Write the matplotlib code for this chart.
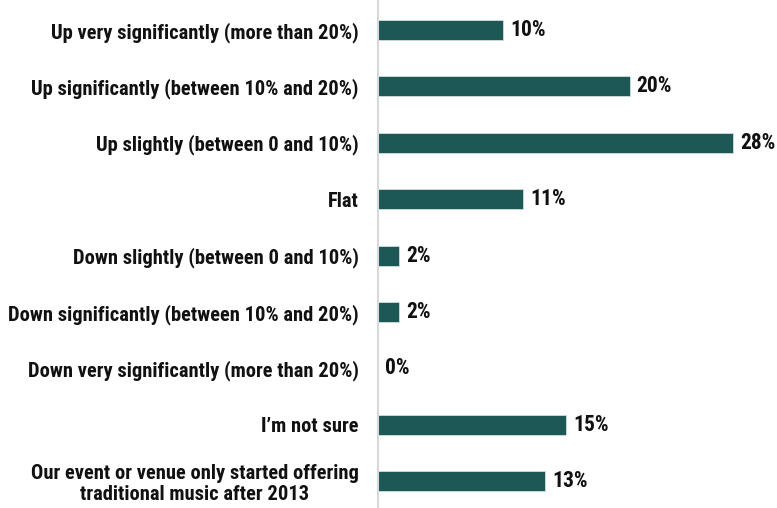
import matplotlib
matplotlib.use("Agg")
import matplotlib.pyplot as plt
from matplotlib import font_manager

categories = [
    "Up very significantly (more than 20%)",
    "Up significantly (between 10% and 20%)",
    "Up slightly (between 0 and 10%)",
    "Flat",
    "Down slightly (between 0 and 10%)",
    "Down significantly (between 10% and 20%)",
    "Down very significantly (more than 20%)",
    "I\u2019m not sure",
    "Our event or venue only started offering\ntraditional music after 2013",
]
values = [9.9, 19.9, 28.1, 11.5, 1.7, 1.7, 0.0, 14.9, 13.2]
value_labels = ["10%", "20%", "28%", "11%", "2%", "2%", "0%", "15%", "13%"]

names = {f.name for f in font_manager.fontManager.ttflist}
fam = ["Roboto Condensed", "Liberation Sans", "DejaVu Sans"]
fam = [f for f in fam if f in names] or ["DejaVu Sans"]

fig = plt.figure(figsize=(7.77, 5.08), dpi=100)
ax = fig.add_axes([378 / 777, 0, 392 / 777, 1])

ypos = list(range(len(categories)))
ax.barh(ypos, values, height=0.355, color="#1d5857", edgecolor="#cfe0df", linewidth=0.6)
ax.set_xlim(0, 31)
ax.set_ylim(8.475, -0.532)

for y, v, lab in zip(ypos, values, value_labels):
    ax.text(v + 0.55, y, lab, va="center", ha="left", fontsize=15.5,
            fontweight="bold", family=fam, color="#111111")

ax.set_yticks(ypos)
ax.set_yticklabels(categories, fontsize=14.8, fontweight="bold", family=fam,
                   color="#111111", linespacing=1.1, multialignment="center")
ax.tick_params(axis="y", length=0, pad=14)
ax.set_xticks([])
for s in ["top", "right", "bottom"]:
    ax.spines[s].set_visible(False)
ax.spines["left"].set_color("#d9d9d9")
ax.spines["left"].set_linewidth(1.5)

fig.savefig("out.png", dpi=100)
